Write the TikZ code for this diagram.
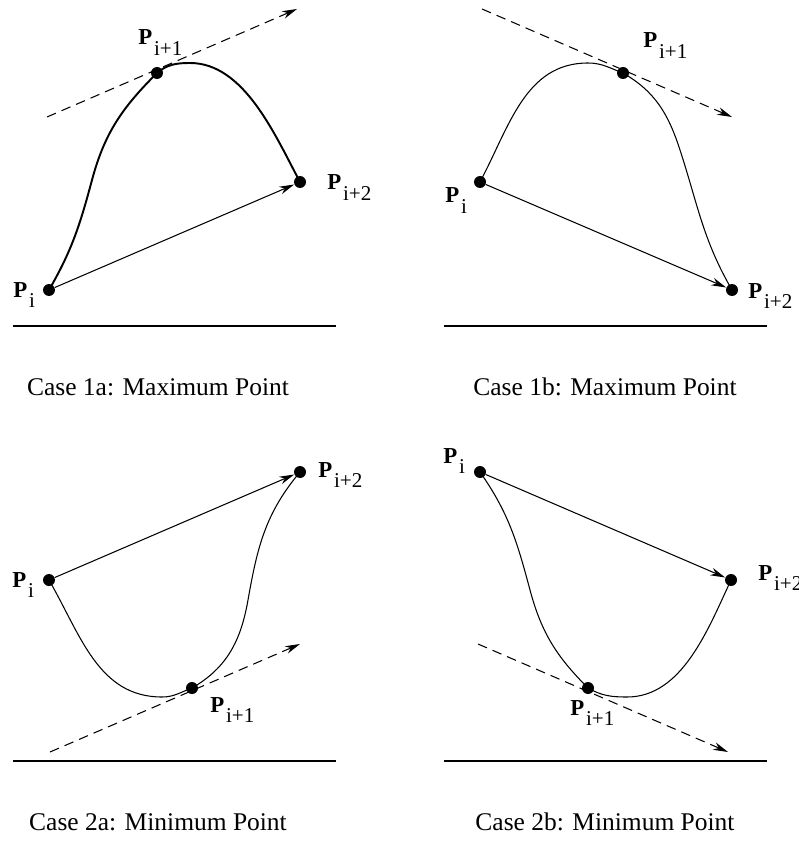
\documentclass[tikz,border=0pt]{standalone}
\usepackage{fontspec}
\setmainfont{Liberation Serif}
\usepackage{tikz}
\usetikzlibrary{arrows.meta}

\newcommand{\ptlab}[1]{{\fontsize{13}{13}\selectfont\bfseries P}\kern1pt\raisebox{-6pt}{\fontsize{12}{12}\selectfont #1}}

\begin{document}
\begin{tikzpicture}[
  x=0.02cm, y=-0.02cm,
  dot/.style={circle, fill=black, inner sep=0pt, minimum size=0.24cm},
  lab/.style={anchor=base west, inner sep=0pt},
  caption/.style={anchor=base, inner sep=0pt, font=\fontsize{14.5}{17}\selectfont},
  curve/.style={line width=0.6pt},
  vec/.style={line width=0.6pt, -{Stealth[length=8.5pt, width=4.5pt]}},
  tangent/.style={line width=0.6pt, dash pattern=on 5.5pt off 3.5pt,
                  -{Stealth[length=8.5pt, width=4.5pt]}},
  ground/.style={line width=1.1pt}
]
\useasboundingbox (0,0) rectangle (798,844);

%% Case 1a: maximum point
\node[dot] (pi1a)  at (49,290)  {};
\node[dot] (pj1a)  at (157,73)  {};
\node[dot] (pk1a)  at (300,182) {};
\coordinate (w1a) at (92,180);
\coordinate (m1a) at (190,63);
\coordinate (t1a) at (47,117);
\coordinate (h1a) at (297,9);
\draw[curve, line width=1.1pt] (pi1a.center) to[out=60,in=-105] (w1a)
  to[out=75,in=-135] (pj1a.center) to[out=40,in=180] (m1a)
  to[out=0,in=118,looseness=0.85] (pk1a.center);
\draw[vec] (pi1a) -- (pk1a);
\draw[tangent] (t1a) -- (h1a);
\node[lab] (li1a) at (13,297)  {\ptlab{i}};
\node[lab] (lj1a) at (138,45)  {\ptlab{i+1}};
\node[lab] (lk1a) at (327,190) {\ptlab{i+2}};
\coordinate (g1a) at (13,326);
\coordinate (e1a) at (336,326);
\draw[ground] (g1a) -- (e1a);
\node[caption] (c1a) at (158,395) {Case 1a: Maximum Point};

%% Case 1b: maximum point
\node[dot] (pi1b)  at (480,182) {};
\node[dot] (pj1b)  at (623,73)  {};
\node[dot] (pk1b)  at (732,290) {};
\coordinate (m1b) at (588,63);
\coordinate (w1b) at (680,150);
\coordinate (t1b) at (482,9);
\coordinate (h1b) at (732,117);
\draw[curve] (pi1b.center) to[out=62,in=180] (m1b)
  to[out=0,in=160] (pj1b.center) to[out=-30,in=108] (w1b)
  to[out=-72,in=120] (pk1b.center);
\draw[vec] (pi1b) -- (pk1b);
\draw[tangent] (t1b) -- (h1b);
\node[lab] (li1b) at (445,203) {\ptlab{i}};
\node[lab] (lj1b) at (643,48)  {\ptlab{i+1}};
\node[lab] (lk1b) at (748,298) {\ptlab{i+2}};
\coordinate (g1b) at (444,326);
\coordinate (e1b) at (767,326);
\draw[ground] (g1b) -- (e1b);
\node[caption] (c1b) at (605,395) {Case 1b: Maximum Point};

%% Case 2a: minimum point
\node[dot] (pi2a)  at (49,580)  {};
\node[dot] (pj2a)  at (192,688) {};
\node[dot] (pk2a)  at (300,472) {};
\coordinate (m2a) at (162,697);
\coordinate (w2a) at (248,600);
\coordinate (t2a) at (50,752);
\coordinate (h2a) at (300,644);
\draw[curve] (pi2a.center) to[out=-60,in=180] (m2a)
  to[out=0,in=-160] (pj2a.center) to[out=30,in=-100] (w2a)
  to[out=80,in=-130] (pk2a.center);
\draw[vec] (pi2a) -- (pk2a);
\draw[tangent] (t2a) -- (h2a);
\node[lab] (li2a) at (12,587)  {\ptlab{i}};
\node[lab] (lj2a) at (210,712) {\ptlab{i+1}};
\node[lab] (lk2a) at (318,477) {\ptlab{i+2}};
\coordinate (g2a) at (13,761);
\coordinate (e2a) at (336,761);
\draw[ground] (g2a) -- (e2a);
\node[caption] (c2a) at (158,830) {Case 2a: Minimum Point};

%% Case 2b: minimum point
\node[dot] (pi2b)  at (480,472) {};
\node[dot] (pj2b)  at (588,688) {};
\node[dot] (pk2b)  at (731,580) {};
\coordinate (w2b) at (530,590);
\coordinate (m2b) at (627,697);
\coordinate (t2b) at (478,644);
\coordinate (h2b) at (728,752);
\draw[curve] (pi2b.center) to[out=-55,in=105] (w2b)
  to[out=-75,in=135] (pj2b.center) to[out=-30,in=180] (m2b)
  to[out=0,in=-115,looseness=0.9] (pk2b.center);
\draw[vec] (pi2b) -- (pk2b);
\draw[tangent] (t2b) -- (h2b);
\node[lab] (li2b) at (443,463) {\ptlab{i}};
\node[lab] (lj2b) at (570,715) {\ptlab{i+1}};
\node[lab] (lk2b) at (758,580) {\ptlab{i+2}};
\coordinate (g2b) at (444,761);
\coordinate (e2b) at (767,761);
\draw[ground] (g2b) -- (e2b);
\node[caption] (c2b) at (605,830) {Case 2b: Minimum Point};

\end{tikzpicture}
\end{document}
